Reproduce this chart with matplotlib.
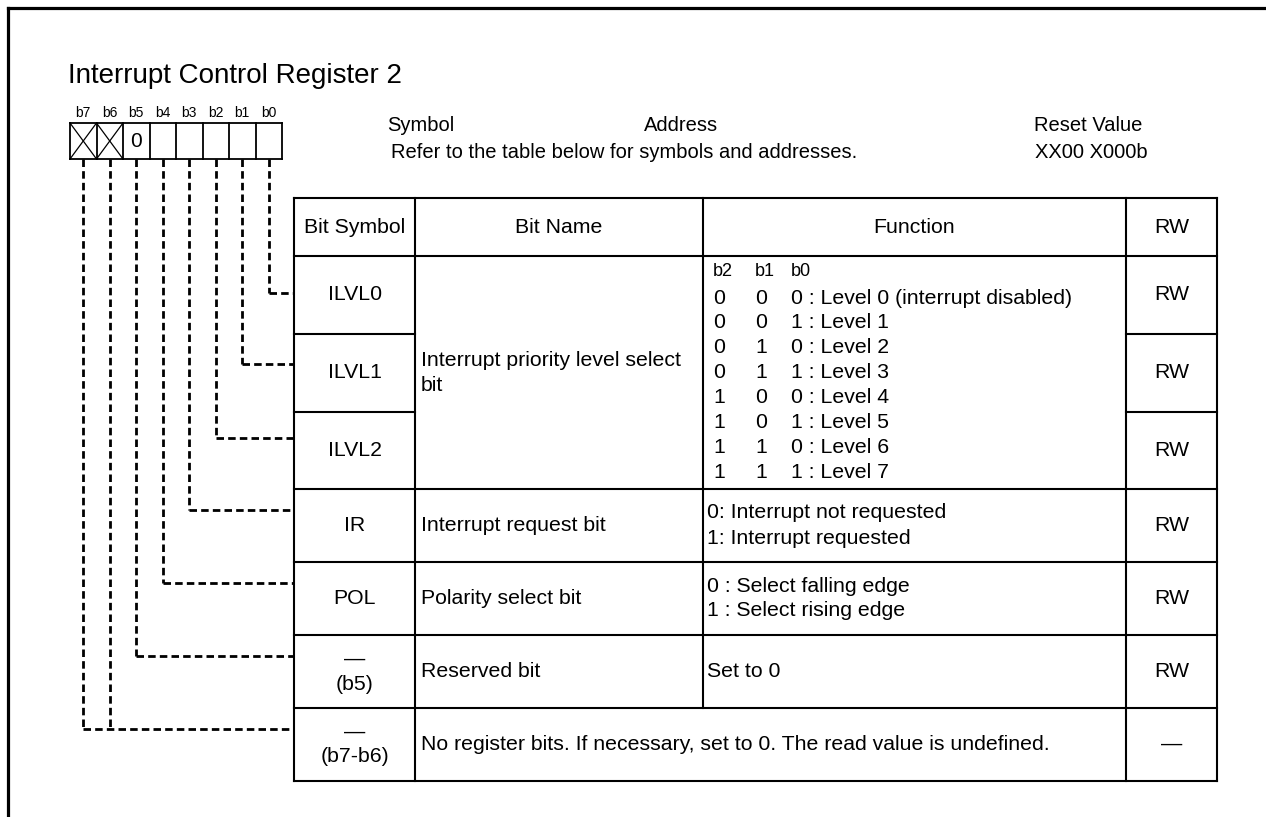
import matplotlib.pyplot as plt

plt.rcParams['font.family'] = ['Liberation Sans', 'DejaVu Sans']

# register data
title = "Interrupt Control Register 2"
bit_labels = ["b7", "b6", "b5", "b4", "b3", "b2", "b1", "b0"]
bit_fixed = ["x", "x", "0", "", "", "", "", ""]   # x = no register bit

headers = ["Bit Symbol", "Bit Name", "Function", "RW"]
symbols = ["ILVL0", "ILVL1", "ILVL2", "IR", "POL", "\u2014\n(b5)", "\u2014\n(b7-b6)"]
row_bits = [["b0"], ["b1"], ["b2"], ["b3"], ["b4"], ["b5"], ["b7", "b6"]]
rw = ["RW", "RW", "RW", "RW", "RW", "RW", "\u2014"]

ilvl_name = "Interrupt priority level select\nbit"
ilvl_head = ["b2", "b1", "b0"]
ilvl_b2 = ["0", "0", "0", "0", "1", "1", "1", "1"]
ilvl_b1 = ["0", "0", "1", "1", "0", "0", "1", "1"]
ilvl_b0 = ["0 : Level 0 (interrupt disabled)", "1 : Level 1", "0 : Level 2", "1 : Level 3",
           "0 : Level 4", "1 : Level 5", "0 : Level 6", "1 : Level 7"]

other_names = ["Interrupt request bit", "Polarity select bit", "Reserved bit"]
other_funcs = ["0: Interrupt not requested\n1: Interrupt requested",
               "0 : Select falling edge\n1 : Select rising edge",
               "Set to 0"]
last_text = "No register bits. If necessary, set to 0. The read value is undefined."

# layout (pixels)
W, H = 1266, 817
col_x = [294, 415, 703, 1126, 1217]
row_y = [198, 256, 334, 411.5, 489, 562, 635, 708, 781]
conn_y = [293, 364, 438, 510, 583, 656, 729]
box_x0, box_x1, box_y0, box_y1 = 70, 282, 123, 159

fig = plt.figure(figsize=(W / 100, H / 100), dpi=100)
ax = fig.add_axes([0, 0, 1, 1])
ax.set_xlim(0, W)
ax.set_ylim(H, 0)
ax.axis("off")

FS = 15.3
LS = 1.4
line_kw = dict(color="black", lw=1.5, solid_capstyle="projecting")

# outer frame (top and left only)
ax.plot([8, W], [8, 8], color="black", lw=2.3)
ax.plot([8, 8], [8, H], color="black", lw=2.3)

ax.text(68, 76, title, fontsize=20, va="center", ha="left")

# register box
cw = (box_x1 - box_x0) / len(bit_labels)
centers = {}
for i, (lab, fixed) in enumerate(zip(bit_labels, bit_fixed)):
    x0 = box_x0 + i * cw
    cx = x0 + cw / 2
    centers[lab] = cx
    ax.text(cx, 113, lab, fontsize=10, ha="center", va="center")
    if fixed == "x":
        ax.plot([x0, x0 + cw], [box_y0, box_y1], color="black", lw=0.9)
        ax.plot([x0, x0 + cw], [box_y1, box_y0], color="black", lw=0.9)
    elif fixed:
        ax.text(cx, 141, fixed, fontsize=15, ha="center", va="center")
    ax.plot([x0, x0], [box_y0, box_y1], color="black", lw=1.3)
ax.plot([box_x1, box_x1], [box_y0, box_y1], color="black", lw=1.3)
ax.plot([box_x0, box_x1], [box_y0, box_y0], color="black", lw=1.3)
ax.plot([box_x0, box_x1], [box_y1, box_y1], color="black", lw=1.3)

# symbol / address / reset
ax.text(387, 125, "Symbol", fontsize=14.5, ha="left", va="center")
ax.text(644, 125, "Address", fontsize=14.5, ha="left", va="center")
ax.text(391, 152, "Refer to the table below for symbols and addresses.", fontsize=14.5, ha="left", va="center")
ax.text(1088, 125, "Reset Value", fontsize=14.5, ha="center", va="center")
ax.text(1091, 152, "XX00 X000b", fontsize=14.5, ha="center", va="center")

# dashed connectors
dash_kw = dict(color="black", lw=2.0, dashes=(2.7, 1.5))
for bits, yc in zip(row_bits, conn_y):
    xs = [centers[b] for b in bits]
    for x in xs:
        ax.plot([x, x], [box_y1, yc], **dash_kw)
    ax.plot([min(xs), col_x[0]], [yc, yc], **dash_kw)

# table grid
ax.plot([col_x[0], col_x[-1]], [row_y[0], row_y[0]], **line_kw)
ax.plot([col_x[0], col_x[-1]], [row_y[-1], row_y[-1]], **line_kw)
for j, y in enumerate(row_y[1:-1], start=1):
    if j in (2, 3):
        ax.plot([col_x[0], col_x[1]], [y, y], **line_kw)
        ax.plot([col_x[3], col_x[4]], [y, y], **line_kw)
    else:
        ax.plot([col_x[0], col_x[-1]], [y, y], **line_kw)
for k, x in enumerate(col_x):
    if k == 2:
        ax.plot([x, x], [row_y[0], row_y[-2]], **line_kw)
    else:
        ax.plot([x, x], [row_y[0], row_y[-1]], **line_kw)

# header
hy = (row_y[0] + row_y[1]) / 2
for k, h in enumerate(headers):
    ax.text((col_x[k] + col_x[k + 1]) / 2, hy, h, fontsize=FS, ha="center", va="center")

# symbol and RW columns
for i, (s, r) in enumerate(zip(symbols, rw)):
    yc = (row_y[i + 1] + row_y[i + 2]) / 2
    ax.text((col_x[0] + col_x[1]) / 2, yc, s, fontsize=FS, ha="center", va="center", linespacing=LS)
    ax.text((col_x[3] + col_x[4]) / 2, yc, r, fontsize=FS, ha="center", va="center")

# ILVL merged block
ax.text(col_x[1] + 6, (row_y[1] + row_y[4]) / 2, ilvl_name, fontsize=FS, ha="left", va="center",
        linespacing=LS)
fx = [713, 755, 791]
for k, h in enumerate(ilvl_head):
    ax.text(fx[k], 272, h, fontsize=13, ha="left", va="center")
for i in range(len(ilvl_b0)):
    y = 298 + 24.9 * i
    ax.text(fx[0], y, ilvl_b2[i], fontsize=FS, ha="left", va="center")
    ax.text(fx[1], y, ilvl_b1[i], fontsize=FS, ha="left", va="center")
    ax.text(fx[2], y, ilvl_b0[i], fontsize=FS, ha="left", va="center")

# other rows
for i, (n, f) in enumerate(zip(other_names, other_funcs)):
    yc = (row_y[i + 4] + row_y[i + 5]) / 2
    ax.text(col_x[1] + 6, yc, n, fontsize=FS, ha="left", va="center")
    ax.text(col_x[2] + 4, yc, f, fontsize=FS, ha="left", va="center", linespacing=LS)

ax.text(col_x[1] + 6, (row_y[-2] + row_y[-1]) / 2, last_text, fontsize=FS, ha="left", va="center")

fig.savefig("out.png", dpi=100, facecolor="white")
